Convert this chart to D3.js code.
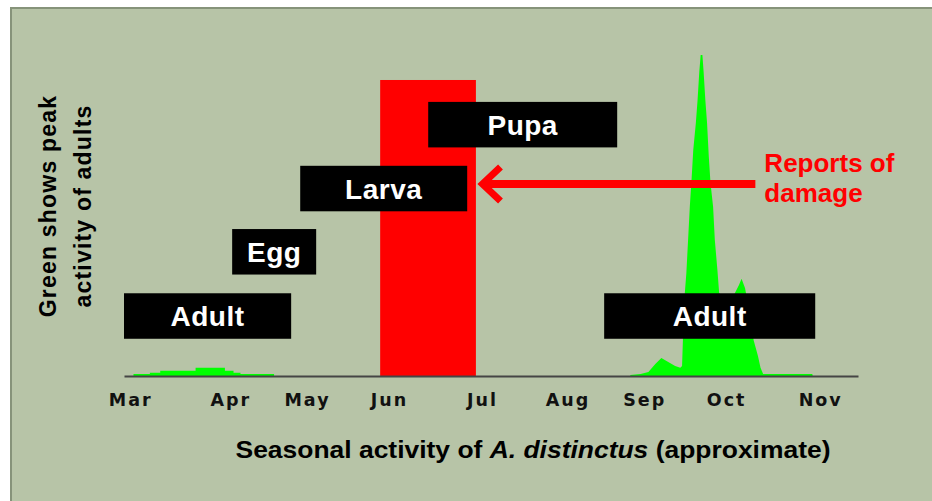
<!DOCTYPE html>
<html>
<head>
<meta charset="utf-8">
<script src="https://cdn.jsdelivr.net/npm/d3@7"></script>
<style>
  html, body { margin: 0; padding: 0; background: #fff; }
  svg { display: block; }
</style>
</head>
<body>
<div id="chart"></div>
<script>
// month labels and where they sit on the month axis (Mar = 0)
var months = ["Mar", "Apr", "May", "Jun", "Jul", "Aug", "Sep", "Oct", "Nov"];
var monthTickAt = [0, 1.16, 2.05, 3.0, 4.08, 5.07, 5.96, 6.91, 8.0];

// spring adult activity (step shape)
var springX = [0.05, 0.24, 0.36, 0.77, 1.11, 1.21, 1.29, 1.68];
var springY = [0.6, 1.0, 1.6, 2.5, 1.6, 1.0, 0.6, 0.6];

// autumn adult activity
var autumnX = [5.81, 5.93, 6.02, 6.10, 6.17, 6.25, 6.33, 6.39, 6.41, 6.42, 6.43, 6.46, 6.48, 6.50,
               6.52, 6.54, 6.57, 6.59, 6.61, 6.626, 6.646, 6.66, 6.68, 6.70, 6.72, 6.74, 6.77,
               6.79, 6.82, 6.84, 6.92, 7.01, 7.07, 7.10, 7.14, 7.21, 7.24, 7.29, 7.32, 7.35, 7.92, 7.925];
var autumnY = [0.3, 0.6, 1.2, 3.7, 5.5, 4.3, 3.1, 2.5, 3.1, 11.0, 21.3, 31.6, 41.7, 51.9,
               60.1, 69.3, 77.6, 84.7, 93.3, 98.5, 98.5, 93.3, 84.7, 77.6, 67.3, 59.2, 51.9,
               41.7, 32.5, 25.5, 21.8, 24.8, 27.9, 29.8, 27.0, 17.2, 11.0, 6.1, 2.5, 0.6, 0.6, 0];

// life stages: label, start / end month, level
var stageNames = ["Adult", "Egg", "Larva", "Pupa", "Adult"];
var stageStart = [-0.06, 1.194, 1.983, 3.467, 5.507];
var stageEnd   = [1.878, 2.168, 3.919, 5.658, 7.954];
var stageLevel = [18.4, 38.1, 57.5, 77.1, 18.4];

// reports of damage
var damageStart = 2.91, damageEnd = 4.02, damageLevel = 90.8;
var arrowFrom = 7.26, arrowTo = 4.05, arrowLevel = 58.9;

function init(){
    var w = 932;
    var h = 501;

    var svg = d3.select("#chart")
                .append("svg")
                .attr("width", w)
                .attr("height", h);

    // panel
    svg.append("rect")
       .attr("x", 11)
       .attr("y", 8)
       .attr("width", w + 20)
       .attr("height", h + 20)
       .attr("fill", "#b7c4a7")
       .attr("stroke", "#86937a")
       .attr("stroke-width", 2);

    var x = d3.scaleLinear().domain([-0.06, 8.45]).range([124, 858]);
    var y = d3.scaleLinear().domain([0, 100]).range([376, 50]);

    // damage period
    svg.append("rect")
       .attr("x", x(damageStart))
       .attr("y", y(damageLevel))
       .attr("width", x(damageEnd) - x(damageStart))
       .attr("height", y(0) - y(damageLevel))
       .attr("fill", "#ff0000");

    // adult activity
    var spring = springX.map(function(d, i){ return [d, springY[i]]; });
    var autumn = autumnX.map(function(d, i){ return [d, autumnY[i]]; });

    svg.append("path")
       .datum(spring)
       .attr("fill", "#00ff00")
       .attr("d", d3.area()
                    .curve(d3.curveStepAfter)
                    .x(function(d){ return x(d[0]); })
                    .y0(y(0))
                    .y1(function(d){ return y(d[1]); }));

    svg.append("path")
       .datum(autumn)
       .attr("fill", "#00ff00")
       .attr("d", d3.area()
                    .x(function(d){ return x(d[0]); })
                    .y0(y(0))
                    .y1(function(d){ return y(d[1]); }));

    // stage boxes
    var boxH = 45.5;
    var stages = svg.selectAll("g.stage")
                    .data(stageNames)
                    .enter()
                    .append("g")
                    .attr("class", "stage");

    stages.append("rect")
          .attr("x", function(d, i){ return x(stageStart[i]); })
          .attr("y", function(d, i){ return y(stageLevel[i]) - boxH / 2; })
          .attr("width", function(d, i){ return x(stageEnd[i]) - x(stageStart[i]); })
          .attr("height", boxH)
          .attr("fill", "#000");

    stages.append("text")
          .attr("x", function(d, i){ return (x(stageStart[i]) + x(stageEnd[i])) / 2; })
          .attr("y", function(d, i){ return y(stageLevel[i]) + 10; })
          .text(function(d){ return d; })
          .style("font-family", "'Liberation Sans', Arial, sans-serif")
          .style("font-weight", "bold")
          .style("font-size", "28px")
          .style("letter-spacing", "0.5px")
          .style("fill", "#fff")
          .style("text-anchor", "middle");

    // arrow
    svg.append("line")
       .attr("x1", x(arrowFrom))
       .attr("x2", x(arrowTo) + 6)
       .attr("y1", y(arrowLevel))
       .attr("y2", y(arrowLevel))
       .attr("stroke", "#ff0000")
       .attr("stroke-width", 8);

    svg.append("path")
       .attr("d", "M" + (x(arrowTo) + 22) + "," + (y(arrowLevel) - 17) +
                  "L" + (x(arrowTo) + 4) + "," + y(arrowLevel) +
                  "L" + (x(arrowTo) + 22) + "," + (y(arrowLevel) + 17))
       .attr("fill", "none")
       .attr("stroke", "#ff0000")
       .attr("stroke-width", 7);

    var note = svg.append("text")
                  .style("font-family", "'Liberation Sans', Arial, sans-serif")
                  .style("font-weight", "bold")
                  .style("font-size", "26px")
                  .style("fill", "#ff0000");
    note.append("tspan").attr("x", x(arrowFrom) + 9).attr("y", 172).text("Reports of");
    note.append("tspan").attr("x", x(arrowFrom) + 9).attr("y", 202).text("damage");

    // month axis
    var axis = svg.append("g")
                  .attr("transform", "translate(0," + y(0) + ")")
                  .call(d3.axisBottom(x)
                          .tickValues(monthTickAt)
                          .tickFormat(function(d, i){ return months[i]; })
                          .tickSize(0)
                          .tickSizeOuter(0)
                          .tickPadding(18));

    axis.select(".domain")
        .attr("stroke", "#454545")
        .attr("stroke-width", 2);

    axis.selectAll("text")
        .style("font-family", "'DejaVu Sans', sans-serif")
        .style("font-weight", "bold")
        .style("font-size", "17.5px")
        .style("letter-spacing", "2px")
        .attr("dx", "1")
        .style("fill", "#111");

    // axis titles
    var xTitle = svg.append("text")
                    .attr("x", 533)
                    .attr("y", 458)
                    .attr("textLength", 595)
                    .attr("lengthAdjust", "spacingAndGlyphs")
                    .style("font-family", "'Liberation Sans', Arial, sans-serif")
                    .style("font-weight", "bold")
                    .style("font-size", "24px")
                    .style("text-anchor", "middle")
                    .style("fill", "#000");
    xTitle.append("tspan").text("Seasonal activity of ");
    xTitle.append("tspan").style("font-style", "italic").text("A. distinctus");
    xTitle.append("tspan").text(" (approximate)");

    var yTitle = svg.append("text")
                    .attr("transform", "rotate(-90)")
                    .style("font-family", "'Liberation Sans', Arial, sans-serif")
                    .style("font-weight", "bold")
                    .style("font-size", "23px")
                    .style("text-anchor", "middle")
                    .style("letter-spacing", "1.2px")
                    .style("fill", "#000");
    yTitle.append("tspan").attr("x", -206).attr("y", 56).text("Green shows peak");
    yTitle.append("tspan").attr("x", -206).attr("y", 91).text("activity of adults");
}

window.onload = init;
</script>
</body>
</html>
